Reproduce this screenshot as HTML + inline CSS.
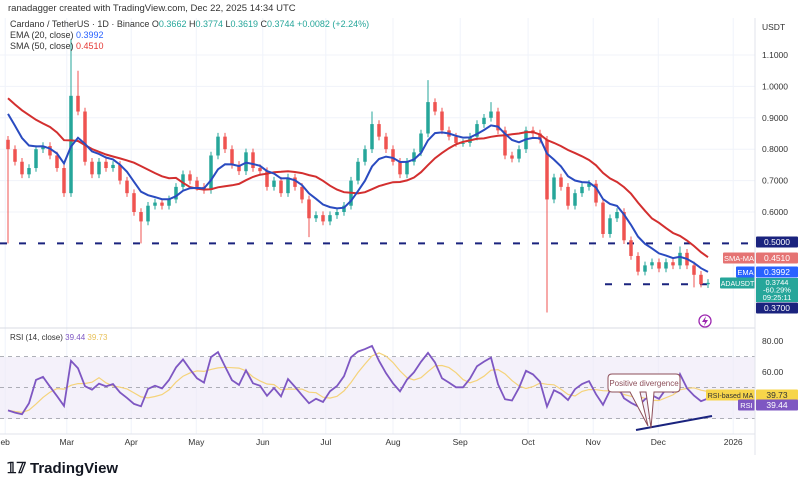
<!DOCTYPE html>
<html><head><meta charset="utf-8"><style>
body{margin:0;width:800px;height:486px;background:#fff;overflow:hidden;font-family:"Liberation Sans",sans-serif;}
svg{display:block}
</style></head><body>
<svg id="c" width="800" height="486" viewBox="0 0 800 486">
<rect x="0" y="0" width="800" height="486" fill="#fff"/>
<g id="grid"></g>
<rect x="0" y="357" width="755" height="62" fill="#ede7f6" opacity="0.6"/>
<g id="levels"></g>
<g id="candles"></g>
<g id="lines"></g>
<g id="rsi"></g>
<g id="axes"></g>
<line x1="0" y1="328" x2="755" y2="328" stroke="#d8dbe3"/>
<line x1="755" y1="18" x2="755" y2="455" stroke="#e0e3eb"/>
<line x1="0" y1="434" x2="755" y2="434" stroke="#e0e3eb"/>
<text x="8" y="11" font-size="9.5" fill="#333">ranadagger created with TradingView.com, Dec 22, 2025 14:34 UTC</text>
<text x="10" y="27" font-size="9" fill="#333">Cardano / TetherUS · 1D · Binance  <tspan fill="#333">O</tspan><tspan fill="#26a69a">0.3662</tspan>  H<tspan fill="#26a69a">0.3774</tspan>  L<tspan fill="#26a69a">0.3619</tspan>  C<tspan fill="#26a69a">0.3744  +0.0082 (+2.24%)</tspan></text>
<text x="10" y="38" font-size="9" fill="#333">EMA (20, close) <tspan fill="#2962ff">0.3992</tspan></text>
<text x="10" y="49" font-size="9" fill="#333">SMA (50, close) <tspan fill="#e53935">0.4510</tspan></text>
<text x="10" y="340" font-size="8" fill="#333">RSI (14, close) <tspan fill="#7e57c2">39.44</tspan> <tspan fill="#e8c15a">39.73</tspan></text>
<text x="762" y="30" font-size="8.5" fill="#333">USDT</text>
<g>
<text x="7" y="473" font-size="15" font-weight="bold" fill="#131722">𝟙𝟟</text>
<text x="30" y="473" font-size="15" font-weight="bold" fill="#131722">TradingView</text>
</g>
<g><circle cx="705" cy="321" r="6" fill="none" stroke="#9c27b0" stroke-width="1.3"/><path d="M706 316 L702 322 H705 L704 326 L708 320 H705 Z" fill="#9c27b0"/></g>
</svg>
<script>
const closes=[0.80,0.76,0.72,0.74,0.80,0.81,0.78,0.74,0.66,0.97,0.92,0.76,0.72,0.76,0.74,0.75,0.70,0.66,0.60,0.57,
0.62,0.63,0.62,0.64,0.68,0.72,0.70,0.68,0.67,0.78,0.84,0.80,0.75,0.73,0.79,0.74,0.73,0.68,0.70,0.66,
0.71,0.68,0.64,0.58,0.59,0.57,0.59,0.60,0.62,0.70,0.76,0.80,0.88,0.84,0.80,0.76,0.72,0.76,0.79,0.85,
0.95,0.92,0.86,0.84,0.82,0.82,0.84,0.88,0.90,0.92,0.86,0.78,0.77,0.80,0.86,0.85,0.83,0.64,0.71,0.68,
0.62,0.66,0.68,0.69,0.63,0.53,0.58,0.60,0.51,0.46,0.41,0.43,0.44,0.42,0.44,0.43,0.47,0.43,0.40,0.37,0.3744];
const firstOpen=0.83;
const spikeHighs=[[9,1.15],[10,1.05],[52,0.92],[60,1.02],[69,0.95],[96,0.49]];
const spikeLows=[[0,0.50],[19,0.50],[43,0.52],[77,0.28],[98,0.36],[99,0.36]];
const historyCloses=[1.05,1.08,1.02,0.98,1.04,1.00,0.96,1.02,1.05,0.98,0.95,0.97,0.92,0.90,0.88,0.85];
const monthLabels=["eb","Mar","Apr","May","Jun","Jul","Aug","Sep","Oct","Nov","Dec","2026"];
const monthIdx=[-0.4,8.4,17.6,26.9,36.4,45.4,55,64.6,74.3,83.6,92.9,103.6];
const priceTicks=[1.1,1.0,0.9,0.8,0.7,0.6];
const rsiTicks=[80,60];
const ns="http://www.w3.org/2000/svg";
const X=i=>8+7*i;
const Y=p=>55+(1.1-p)*314;
const RY=v=>341+(80-v)*1.55;
function mk(t,a,parent){const e=document.createElementNS(ns,t);for(const k in a)e.setAttribute(k,a[k]);parent.appendChild(e);return e;}
const G=id=>document.getElementById(id);
monthIdx.forEach((m,k)=>{const x=X(m);
 const l=mk('line',{x1:x,y1:18,x2:x,y2:434,stroke:'#f0f3fa'},G('grid'));
 
 
 const t=mk('text',{x:x,y:445,'font-size':8.5,fill:'#333','text-anchor':'middle'},G('axes'));
 t.textContent=monthLabels[k];
 
 });
priceTicks.forEach(p=>{const y=Y(p);
 const l=mk('line',{x1:0,y1:y,x2:755,y2:y,stroke:'#f0f3fa'},G('grid'));
 
 
 const t=mk('text',{x:762,y:y+3,'font-size':8.5,fill:'#333'},G('axes'));
 t.textContent=p.toFixed(4);
 
 });
rsiTicks.forEach(v=>{const t=mk('text',{x:762,y:RY(v)+3,'font-size':8.5,fill:'#333'},G('axes'));
 t.textContent=v.toFixed(2);
 
 });
const l5=mk('line',{x1:0,y1:Y(0.5),x2:755,y2:Y(0.5),stroke:'#1a237e','stroke-width':2,'stroke-dasharray':'7 12'},G('levels'));


const l37=mk('line',{x1:605,y1:Y(0.37),x2:712,y2:Y(0.37),stroke:'#1a237e','stroke-width':2,'stroke-dasharray':'7 12'},G('levels'));


const hm={},lm={};spikeHighs.forEach(a=>hm[a[0]]=a[1]);spikeLows.forEach(a=>lm[a[0]]=a[1]);
closes.forEach((c,i)=>{const o=i?closes[i-1]:firstOpen;
 const up=c>=o;const col=up?'#26a69a':'#ef5350';
 const hi=hm[i]!==undefined?hm[i]:Math.max(o,c)+0.012;
 const lo=lm[i]!==undefined?lm[i]:Math.min(o,c)-0.012;
 const g=mk('g',{},G('candles'));
 
 
 mk('line',{x1:X(i),x2:X(i),y1:Y(hi),y2:Y(lo),stroke:col,'stroke-width':1},g);
 const yt=Y(Math.max(o,c)),yb=Y(Math.min(o,c));
 mk('rect',{x:X(i)-1.75,y:yt,width:3.5,height:Math.max(1,yb-yt),fill:col},g);});
const ema=[];let e=historyCloses[historyCloses.length-1]+0.1;const a=2/8;
closes.forEach(c=>{e=e+a*(c-e);ema.push(e);});
const all=historyCloses.concat(closes);const sma=closes.map((c,i)=>{const j=i+historyCloses.length;let s=0;for(let k=j-15;k<=j;k++)s+=all[k];return s/16;});
const path=(arr,f,xf)=>arr.map((v,i)=>(i?'L':'M')+xf(i).toFixed(1)+' '+f(v).toFixed(1)).join(' ');
const sp=mk('path',{d:path(sma,Y,X),fill:'none',stroke:'#d32f2f','stroke-width':2},G('lines'));


const ep=mk('path',{d:path(ema,Y,X),fill:'none',stroke:'#2a4bc0','stroke-width':2},G('lines'));


const per=4;let ag=0,al=0;const rsi=[];
all.forEach((c,i)=>{if(i===0)return;const d=c-all[i-1];const gg=Math.max(d,0),ll=Math.max(-d,0);
 if(i<=per){ag+=gg/per;al+=ll/per;}else{ag=(ag*(per-1)+gg)/per;al=(al*(per-1)+ll)/per;}
 if(i>=historyCloses.length)rsi.push(al===0?100:100-100/(1+ag/al));});
const rs=rsi.map(v=>30+v*0.5);
const rma=rs.map((v,i)=>{let s=0,n=0;for(let k=Math.max(0,i-4);k<=i;k++){s+=rs[k];n++;}return s/n;});
[70,50,30].forEach(v=>{const l=mk('line',{x1:0,x2:755,y1:RY(v),y2:RY(v),stroke:'#9598a1','stroke-dasharray':'4 4','stroke-width':0.8},G('rsi'));
 
 });
const mp=mk('path',{d:path(rma,RY,X),fill:'none',stroke:'#f5d37a','stroke-width':1.2},G('rsi'));


const rp=mk('path',{d:path(rs,RY,X),fill:'none',stroke:'#7e57c2','stroke-width':1.8},G('rsi'));


const tl=mk('line',{x1:636,y1:430,x2:712,y2:416,stroke:'#1a237e','stroke-width':2},G('rsi'));


const cg=mk('g',{},G('rsi'));


mk('path',{d:'M612 374 H676 Q680 374 680 378 V388 Q680 392 676 392 H654 L651 428 L646 392 H640 L648 426 L630 392 H612 Q608 392 608 388 V378 Q608 374 612 374 Z',fill:'#fff',stroke:'#8d4f5a','stroke-width':1},cg);
const ct=mk('text',{x:644,y:386,'font-size':8,fill:'#8d4f5a','text-anchor':'middle'},cg);
ct.textContent='Positive divergence';
function lab(x,y,w,h,bg,txt,name,fg,fs){const g=mk('g',{},G('axes'));
 
 
 mk('rect',{x:x,y:y-h/2,width:w,height:h,fill:bg,rx:1},g);
 const t=mk('text',{x:x+w/2,y:y+3,'font-size':fs||8.5,fill:fg||'#fff','text-anchor':'middle'},g);t.textContent=txt;return g;}
lab(756,242,42,11,'#1a237e','0.5000','level-label-0.50');
lab(723,258,32,11,'#e57373','SMA-MA','sma-tag','#fff',7.5);
lab(756,258,42,11,'#e57373','0.4510','sma-value-label');
lab(736,272,19,11,'#2962ff','EMA','ema-tag','#fff',7.5);
lab(756,272,42,11,'#2962ff','0.3992','ema-value-label');
lab(720,283,35,11,'#26a69a','ADAUSDT','symbol-tag','#fff',7);
const pg=mk('g',{},G('axes'));


mk('rect',{x:756,y:278,width:42,height:24,fill:'#26a69a'},pg);
['0.3744','-60.29%','09:25:11'].forEach((s,k)=>{const t=mk('text',{x:777,y:285+k*7.5,'font-size':7.5,fill:'#fff','text-anchor':'middle'},pg);t.textContent=s;});
lab(756,308,42,11,'#1a237e','0.3700','level-label-0.37');
lab(706,395,49,11,'#f7d54a','RSI-based MA','rsi-ma-tag','#333',7);
lab(756,395,42,11,'#f7d54a','39.73','rsi-ma-value','#333');
lab(738,405,17,11,'#7e57c2','RSI','rsi-tag','#fff',7.5);
lab(756,405,42,11,'#7e57c2','39.44','rsi-value');
</script>
</body></html>
